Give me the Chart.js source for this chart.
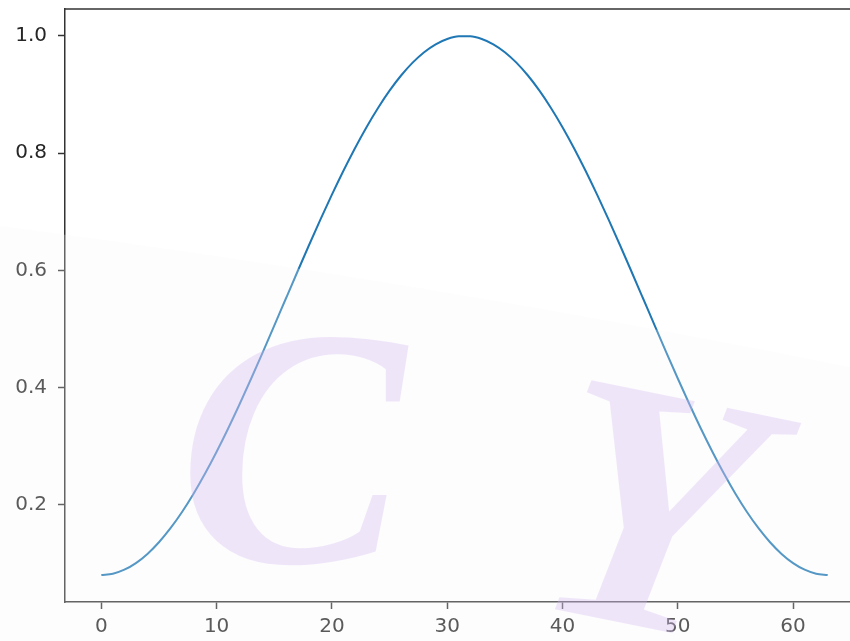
<!DOCTYPE html>
<html>
<head>
<meta charset="utf-8">
<script src="https://cdn.jsdelivr.net/npm/chart.js@4"></script>
<style>
  html, body { margin: 0; padding: 0; background: #ffffff; overflow: hidden; }
  #wrap { position: absolute; left: 0; top: 0; width: 864px; height: 641px; }
</style>
</head>
<body>
<div id="wrap"><canvas id="c" width="864" height="641"></canvas></div>
<script>
const sampleIndex = [0,1,2,3,4,5,6,7,8,9,10,11,12,13,14,15,16,17,18,19,20,21,22,23,24,25,26,27,28,29,30,31,
  32,33,34,35,36,37,38,39,40,41,42,43,44,45,46,47,48,49,50,51,52,53,54,55,56,57,58,59,60,61,62,63];
const windowValues = [0.0800,0.0823,0.0891,0.1004,0.1161,0.1360,0.1599,0.1876,0.2188,0.2532,0.2904,0.3301,0.3719,0.4154,0.4601,0.5056,
  0.5515,0.5972,0.6424,0.6865,0.7292,0.7700,0.8085,0.8444,0.8772,0.9067,0.9325,0.9545,0.9723,0.9858,0.9949,0.9994,
  0.9994,0.9949,0.9858,0.9723,0.9545,0.9325,0.9067,0.8772,0.8444,0.8085,0.7700,0.7292,0.6865,0.6424,0.5972,0.5515,
  0.5056,0.4601,0.4154,0.3719,0.3301,0.2904,0.2532,0.2188,0.1876,0.1599,0.1360,0.1161,0.1004,0.0891,0.0823,0.0800];
const xTickValues = [0,10,20,30,40,50,60];
const yTickValues = [0.2,0.4,0.6,0.8,1.0];
const watermarkText = ['C','Y'];

const textColor = '#262626';
const spineColor = '#333333';

const framePlugin = {
  id: 'frame',
  afterDraw(chart) {
    const ctx = chart.ctx;
    const a = chart.chartArea;
    ctx.save();
    // top spine
    ctx.strokeStyle = spineColor;
    ctx.lineWidth = 1.5;
    ctx.beginPath();
    ctx.moveTo(a.left - 0.75, a.top);
    ctx.lineTo(a.right, a.top);
    ctx.stroke();

    // watermark letters
    ctx.fillStyle = 'rgba(200,160,240,0.33)';
    ctx.textBaseline = 'alphabetic';
    ctx.textAlign = 'center';
    ctx.font = 'italic bold 340px "Liberation Serif"';
    ctx.save();
    ctx.translate(292, 562);
    ctx.fillText(watermarkText[0], 0, 0);
    ctx.restore();
    ctx.save();
    ctx.translate(628, 624);
    ctx.rotate(0.2);
    ctx.scale(1, 1.04);
    ctx.fillText(watermarkText[1], 0, 0);
    ctx.restore();

    // faint light veil on lower-left part
    ctx.fillStyle = 'rgba(246,246,246,0.25)';
    ctx.beginPath();
    ctx.moveTo(0, 226);
    ctx.quadraticCurveTo(430, 282, 864, 370);
    ctx.lineTo(864, 641);
    ctx.lineTo(0, 641);
    ctx.closePath();
    ctx.fill();
    ctx.restore();
  }
};

new Chart(document.getElementById('c'), {
  type: 'line',
  data: {
    datasets: [{
      data: sampleIndex.map((x, i) => ({ x: x, y: windowValues[i] })),
      borderColor: '#1f77b4',
      borderWidth: 2,
      pointRadius: 0,
      cubicInterpolationMode: 'monotone',
      fill: false
    }]
  },
  options: {
    responsive: false,
    animation: false,
    devicePixelRatio: 1,
    layout: { padding: { top: 9, right: 0, bottom: 0, left: 0 } },
    plugins: { legend: { display: false }, tooltip: { enabled: false } },
    scales: {
      x: {
        type: 'linear',
        min: -3.15,
        max: 66.15,
        afterFit(s) { s.height = 39; s.paddingLeft = 0; s.paddingRight = 0; },
        afterBuildTicks(s) { s.ticks = xTickValues.map(v => ({ value: v })); },
        grid: { drawOnChartArea: false, drawTicks: true, tickLength: 7, color: spineColor, tickWidth: 1.5 },
        border: { display: true, color: spineColor, width: 1.5 },
        ticks: { color: textColor, padding: 6, maxRotation: 0, font: { family: 'DejaVu Sans', size: 20 },
          callback: v => String(v) }
      },
      y: {
        type: 'linear',
        min: 0.034,
        max: 1.046,
        afterFit(s) { s.width = 65; s.paddingTop = 0; s.paddingBottom = 0; },
        afterBuildTicks(s) { s.ticks = yTickValues.map(v => ({ value: v })); },
        grid: { drawOnChartArea: false, drawTicks: true, tickLength: 7, color: spineColor, tickWidth: 1.5 },
        border: { display: true, color: spineColor, width: 1.5 },
        ticks: { color: textColor, padding: 11, font: { family: 'DejaVu Sans', size: 20 },
          callback: v => Number(v).toFixed(1) }
      }
    }
  },
  plugins: [framePlugin]
});
</script>
</body>
</html>
